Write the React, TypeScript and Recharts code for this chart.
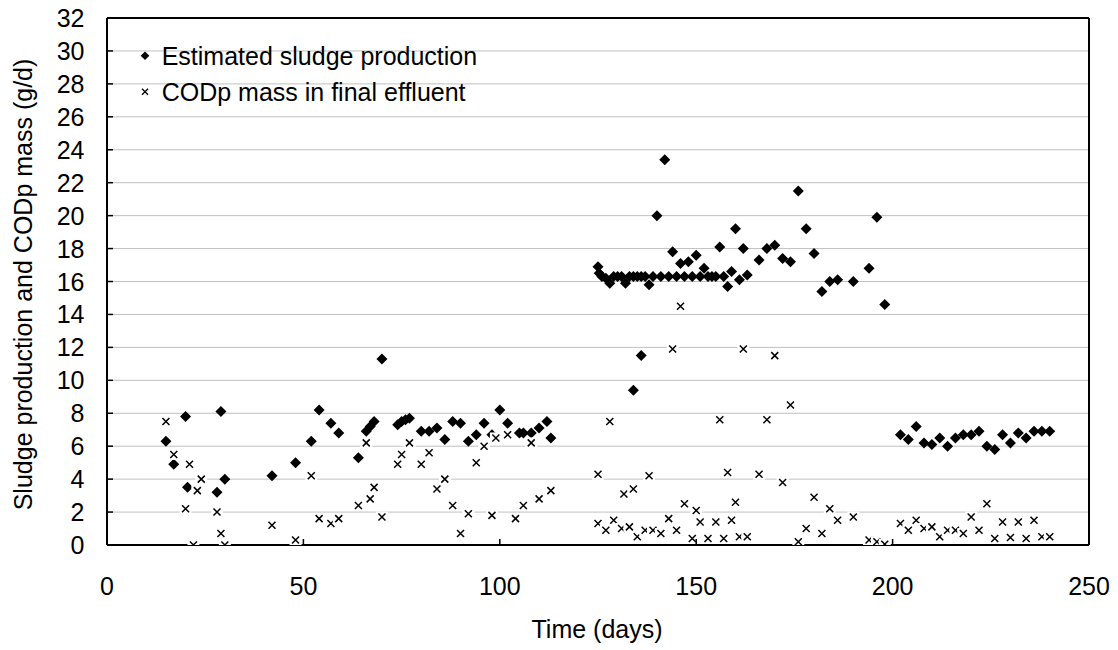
import React from "react";
import {
    ScatterChart,
    Scatter,
    XAxis,
    YAxis,
    CartesianGrid,
    ReferenceLine,
    Legend,
} from "recharts";

const FONT = "'Liberation Sans', Arial, Helvetica, sans-serif";

// estimated sludge production (g/d)
const sludgeDays = [
    15, 17, 20, 20.5, 28, 29, 30, 42, 48, 52, 54, 57, 59, 64, 66, 67, 68, 70, 74, 75,
    76, 77, 80, 82, 84, 86, 88, 90, 92, 94, 96, 98, 100, 102, 105, 106, 108, 110, 112, 113,
    125, 125.3, 126, 127, 128, 129, 130, 131, 132, 133, 134, 134, 135, 136, 136, 137, 138, 139, 140, 141,
    142, 143, 144, 145, 146, 147, 148, 149, 150, 151, 152, 153, 154, 155, 156, 157, 158, 159, 160, 161,
    162, 163, 166, 168, 170, 172, 174, 176, 178, 180, 182, 184, 186, 190, 194, 196, 198,
    202, 204, 206, 208, 210, 212, 214, 216, 218, 220, 222, 224, 226, 228, 230, 232, 234, 236, 238, 240,
];
const sludgeMass = [
    6.3, 4.9, 7.8, 3.5, 3.2, 8.1, 4.0, 4.2, 5.0, 6.3, 8.2, 7.4, 6.8, 5.3, 6.9, 7.2, 7.5, 11.3, 7.3, 7.5,
    7.6, 7.7, 6.9, 6.9, 7.1, 6.4, 7.5, 7.4, 6.3, 6.7, 7.4, 6.7, 8.2, 7.4, 6.8, 6.8, 6.8, 7.1, 7.5, 6.5,
    16.9, 16.5, 16.3, 16.2, 15.9, 16.3, 16.3, 16.3, 15.9, 16.3, 9.4, 16.3, 16.3, 11.5, 16.3, 16.3, 15.8, 16.3, 20.0, 16.3,
    23.4, 16.3, 17.8, 16.3, 17.1, 16.3, 17.2, 16.3, 17.6, 16.3, 16.8, 16.3, 16.3, 16.3, 18.1, 16.3, 15.7, 16.6, 19.2, 16.1,
    18.0, 16.4, 17.3, 18.0, 18.2, 17.4, 17.2, 21.5, 19.2, 17.7, 15.4, 16.0, 16.1, 16.0, 16.8, 19.9, 14.6,
    6.7, 6.4, 7.2, 6.2, 6.1, 6.5, 6.0, 6.5, 6.7, 6.7, 6.9, 6.0, 5.8, 6.7, 6.2, 6.8, 6.5, 6.9, 6.9, 6.9,
];

// CODp mass in final effluent (g/d)
const codpDays = [
    15, 17, 20, 21, 22, 23, 24, 28, 29, 30, 42, 48, 52, 54, 57, 59, 64, 66, 67, 68,
    70, 74, 75, 77, 80, 82, 84, 86, 88, 90, 92, 94, 96, 98, 99, 102, 104, 106, 108, 110, 113,
    125, 125, 127, 128, 129, 131, 131.6, 133, 134, 135, 137, 138, 139, 141, 143, 144, 145, 146, 147,
    149, 150, 151, 153, 155, 156, 157, 158, 159, 160, 161, 162, 163, 166, 168, 170, 172, 174, 176, 178,
    180, 182, 184, 186, 190, 194, 196, 198,
    202, 204, 206, 208, 210, 212, 214, 216, 218, 220, 222, 224, 226, 228, 230, 232, 234, 236, 238, 240,
];
const codpMass = [
    7.5, 5.5, 2.2, 4.9, 0.0, 3.3, 4.0, 2.0, 0.7, 0.0, 1.2, 0.3, 4.2, 1.6, 1.3, 1.6, 2.4, 6.2, 2.8, 3.5,
    1.7, 4.9, 5.5, 6.2, 4.9, 5.6, 3.4, 4.0, 2.4, 0.7, 1.9, 5.0, 6.0, 1.8, 6.5, 6.7, 1.6, 2.4, 6.2, 2.8, 3.3,
    4.3, 1.3, 0.9, 7.5, 1.5, 1.0, 3.1, 1.1, 3.4, 0.5, 0.9, 4.2, 0.9, 0.7, 1.6, 11.9, 0.9, 14.5, 2.5,
    0.4, 2.1, 1.4, 0.4, 1.4, 7.6, 0.4, 4.4, 1.5, 2.6, 0.5, 11.9, 0.5, 4.3, 7.6, 11.5, 3.8, 8.5, 0.2, 1.0,
    2.9, 0.7, 2.2, 1.5, 1.7, 0.3, 0.2, 0.05,
    1.3, 0.9, 1.5, 1.0, 1.1, 0.5, 0.9, 0.9, 0.7, 1.7, 0.9, 2.5, 0.4, 1.4, 0.45, 1.4, 0.4, 1.5, 0.5, 0.5,
];

const xTicks = [0, 50, 100, 150, 200, 250];
const yTicks = [0, 2, 4, 6, 8, 10, 12, 14, 16, 18, 20, 22, 24, 26, 28, 30, 32];

const seriesNames = ["Estimated sludge production", "CODp mass in final effluent"];

const sludgeData = sludgeDays.map((d, i) => ({ day: d, mass: sludgeMass[i] }));
const codpData = codpDays.map((d, i) => ({ day: d, mass: codpMass[i] }));

const Diamond = ({ cx, cy }: any) => {
    const r = 5.5;
    return (
        <polygon
            points={`${cx},${cy - r} ${cx + r},${cy} ${cx},${cy + r} ${cx - r},${cy}`}
            fill="#000"
        />
    );
};

const Cross = ({ cx, cy }: any) => {
    const a = 3.5;
    return (
        <g>
            <rect x={cx - 6} y={cy - 5.5} width={12} height={11} fill="#fff" />
            <path
                d={`M${cx - a},${cy - a}L${cx + a},${cy + a}M${cx - a},${cy + a}L${cx + a},${cy - a}`}
                stroke="#000"
                strokeWidth={1.5}
            />
        </g>
    );
};

const YTick = ({ x, y, payload }: any) => (
    <g>
        <line x1={x} x2={x + 6} y1={y} y2={y} stroke="#000" strokeWidth={1.5} />
        <text x={x - 22.5} y={y} dy={9} textAnchor="end" fontSize={25} fontFamily={FONT} fill="#000">
            {payload.value}
        </text>
    </g>
);

const XTick = ({ x, y, payload }: any) => (
    <g>
        <line x1={x} x2={x} y1={y} y2={y - 6} stroke="#000" strokeWidth={1.5} />
        <text x={x} y={y + 50} textAnchor="middle" fontSize={25} fontFamily={FONT} fill="#000">
            {payload.value}
        </text>
    </g>
);

const XTitle = ({ viewBox }: any) => (
    <text
        x={viewBox.x + viewBox.width / 2 - 1}
        y={638}
        textAnchor="middle"
        fontSize={25}
        fontFamily={FONT}
        fill="#000"
    >
        Time (days)
    </text>
);

const YTitle = ({ viewBox }: any) => (
    <text
        transform={`translate(32, ${viewBox.y + viewBox.height / 2 + 3}) rotate(-90)`}
        textAnchor="middle"
        fontSize={25}
        fontFamily={FONT}
        fill="#000"
    >
        Sludge production and CODp mass (g/d)
    </text>
);

const LegendBox = () => (
    <svg width={400} height={80} style={{ display: "block" }}>
        <polygon points="15,21.4 19.3,25.7 15,30 10.7,25.7" fill="#000" />
        <text x={31.7} y={35} fontSize={25} fontFamily={FONT} fill="#000">
            {seriesNames[0]}
        </text>
        <path d="M12,58.7L18,64.7M12,64.7L18,58.7" stroke="#000" strokeWidth={1.3} />
        <text x={31.7} y={70.5} fontSize={25} fontFamily={FONT} fill="#000">
            {seriesNames[1]}
        </text>
    </svg>
);

export default function App() {
    return (
        <div style={{ position: "absolute", left: 0, top: 0, width: 1118, height: 650, background: "#fff" }}>
            <ScatterChart
                width={1118}
                height={650}
                margin={{ top: 18, right: 29, bottom: 0, left: 0 }}
            >
                <CartesianGrid horizontal vertical={false} stroke="#c0c0c0" strokeWidth={1} />
                <XAxis
                    type="number"
                    dataKey="day"
                    domain={[0, 250]}
                    ticks={xTicks}
                    height={105}
                    tickSize={0}
                    tickMargin={0}
                    tickLine={false}
                    tick={<XTick />}
                    axisLine={{ stroke: "#000", strokeWidth: 2 }}
                    allowDataOverflow
                    label={(p: any) => <XTitle {...p} />}
                />
                <YAxis
                    type="number"
                    dataKey="mass"
                    domain={[0, 32]}
                    ticks={yTicks}
                    width={107}
                    tickSize={0}
                    tickMargin={0}
                    tickLine={false}
                    tick={<YTick />}
                    axisLine={{ stroke: "#000", strokeWidth: 2 }}
                    interval={0}
                    allowDataOverflow
                    label={(p: any) => <YTitle {...p} />}
                />
                <ReferenceLine y={32} stroke="#000" strokeWidth={2} />
                <ReferenceLine x={250} stroke="#000" strokeWidth={2} />
                <Legend
                    layout="horizontal"
                    verticalAlign="middle"
                    align="center"
                    content={() => <LegendBox />}
                    wrapperStyle={{ top: 30, left: 130, width: 400, height: 80 }}
                />
                <Scatter
                    name={seriesNames[0]}
                    data={sludgeData}
                    shape={<Diamond />}
                    isAnimationActive={false}
                />
                <Scatter
                    name={seriesNames[1]}
                    data={codpData}
                    shape={<Cross />}
                    isAnimationActive={false}
                />
            </ScatterChart>
        </div>
    );
}
